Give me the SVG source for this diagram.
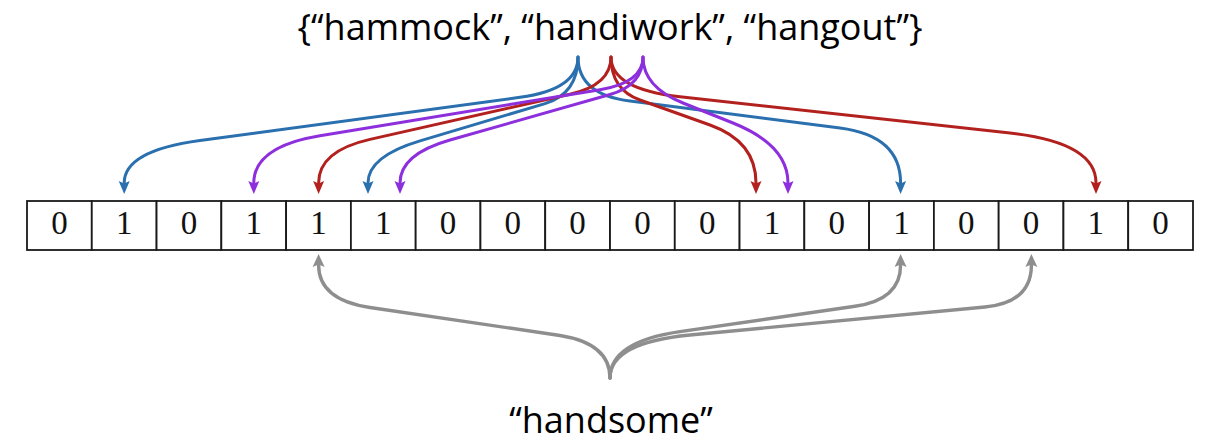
<svg xmlns="http://www.w3.org/2000/svg" width="1208" height="448" viewBox="0 0 1208 448">
<style>
.lbl{font-family:"Open Sans","Liberation Sans",sans-serif;font-size:36px;fill:#000;text-anchor:middle}
.bit{font-family:"Liberation Serif","DejaVu Serif",serif;font-size:33px;fill:#111;text-anchor:middle}
.cell{fill:#fff;stroke:#1a1a1a;stroke-width:1.8}
.c{fill:none;stroke-width:3;stroke-linecap:round}
.blue{stroke:#2a6fae}
.red{stroke:#b3211f}
.purple{stroke:#8d2fdc}
.gray{stroke:#8e8e8e;stroke-width:3.4}
</style>
<defs>
<marker id="ab" markerUnits="userSpaceOnUse" viewBox="-4 -7 16 14" refX="0" refY="0" markerWidth="16" markerHeight="14" orient="auto"><path d="M11 0 L-2 -5.5 L0.5 0 L-2 5.5 Z" fill="#2a6fae"/></marker>
<marker id="ar" markerUnits="userSpaceOnUse" viewBox="-4 -7 16 14" refX="0" refY="0" markerWidth="16" markerHeight="14" orient="auto"><path d="M11 0 L-2 -5.5 L0.5 0 L-2 5.5 Z" fill="#b3211f"/></marker>
<marker id="ap" markerUnits="userSpaceOnUse" viewBox="-4 -7 16 14" refX="0" refY="0" markerWidth="16" markerHeight="14" orient="auto"><path d="M11 0 L-2 -5.5 L0.5 0 L-2 5.5 Z" fill="#8d2fdc"/></marker>
<marker id="ag" markerUnits="userSpaceOnUse" viewBox="-4 -7 16 14" refX="0" refY="0" markerWidth="16" markerHeight="14" orient="auto"><path d="M11 0 L-2 -6 L0.5 0 L-2 6 Z" fill="#8e8e8e"/></marker>
</defs>
<rect width="1208" height="448" fill="#fff"/>
<g id="set-label"><text class="lbl" x="610" y="40">{“hammock”, “handiwork”, “hangout”}</text></g>
<g id="query-label"><text class="lbl" x="611" y="433">“handsome”</text></g>
<g id="bit-array">
<rect class="cell" x="27" y="201" width="64.78" height="49"/>
<rect class="cell" x="91.78" y="201" width="64.78" height="49"/>
<rect class="cell" x="156.56" y="201" width="64.78" height="49"/>
<rect class="cell" x="221.33" y="201" width="64.78" height="49"/>
<rect class="cell" x="286.11" y="201" width="64.78" height="49"/>
<rect class="cell" x="350.89" y="201" width="64.78" height="49"/>
<rect class="cell" x="415.67" y="201" width="64.78" height="49"/>
<rect class="cell" x="480.44" y="201" width="64.78" height="49"/>
<rect class="cell" x="545.22" y="201" width="64.78" height="49"/>
<rect class="cell" x="610" y="201" width="64.78" height="49"/>
<rect class="cell" x="674.78" y="201" width="64.78" height="49"/>
<rect class="cell" x="739.56" y="201" width="64.78" height="49"/>
<rect class="cell" x="804.33" y="201" width="64.78" height="49"/>
<rect class="cell" x="869.11" y="201" width="64.78" height="49"/>
<rect class="cell" x="933.89" y="201" width="64.78" height="49"/>
<rect class="cell" x="998.67" y="201" width="64.78" height="49"/>
<rect class="cell" x="1063.44" y="201" width="64.78" height="49"/>
<rect class="cell" x="1128.22" y="201" width="64.78" height="49"/>
<text class="bit" x="59.4" y="234">0</text>
<text class="bit" x="124.2" y="234">1</text>
<text class="bit" x="189" y="234">0</text>
<text class="bit" x="253.7" y="234">1</text>
<text class="bit" x="318.5" y="234">1</text>
<text class="bit" x="383.3" y="234">1</text>
<text class="bit" x="448.1" y="234">0</text>
<text class="bit" x="512.8" y="234">0</text>
<text class="bit" x="577.6" y="234">0</text>
<text class="bit" x="642.4" y="234">0</text>
<text class="bit" x="707.2" y="234">0</text>
<text class="bit" x="771.9" y="234">1</text>
<text class="bit" x="836.7" y="234">0</text>
<text class="bit" x="901.5" y="234">1</text>
<text class="bit" x="966.3" y="234">0</text>
<text class="bit" x="1031" y="234">0</text>
<text class="bit" x="1095.8" y="234">1</text>
<text class="bit" x="1160.6" y="234">0</text>
</g>
<g id="connectors">
<path class="c blue" marker-end="url(#ab)" d="M578,57 Q578,89.5 520,97.3 L200,140.5 Q124.2,150.7 124.2,183"/>
<path class="c blue" marker-end="url(#ab)" d="M578,57 Q578,93.7 545,103.6 L420,140.9 Q368,156.4 368,183"/>
<path class="c blue" marker-end="url(#ab)" d="M578,57 Q578,94.4 630,101.1 L840,127.9 Q900.6,135.7 900.6,183"/>
<path class="c red" marker-end="url(#ar)" d="M611,57 Q611,85 570,94.2 L370,139.4 Q318.6,151 318.6,183"/>
<path class="c red" marker-end="url(#ar)" d="M611,57 Q611,89.6 640,100 L710,125 Q756,141.4 756,183"/>
<path class="c red" marker-end="url(#ar)" d="M611,57 Q611,89.2 680,96.8 L1010,133.1 Q1096,142.6 1096,183"/>
<path class="c purple" marker-end="url(#ap)" d="M643,57 Q643,82.6 600,89.7 L320,135.7 Q253.8,146.6 253.8,183"/>
<path class="c purple" marker-end="url(#ap)" d="M643,57 Q643,85.1 610,94.5 L450,140 Q400,154.2 400,183"/>
<path class="c purple" marker-end="url(#ap)" d="M643,57 Q643,87 683,103 L733,123 Q788,145 788,183"/>
<path class="c gray" marker-end="url(#ag)" d="M610,378 Q610,343.5 560,335.5 L370,307.5 Q318.6,299.8 318.6,265"/>
<path class="c gray" marker-end="url(#ag)" d="M610,378 Q610,341.8 680,331.6 L855,306.3 Q900.6,299.7 900.6,265"/>
<path class="c gray" marker-end="url(#ag)" d="M610,378 Q610,342.6 690,335 L985,307 Q1031.4,302.6 1031.4,265"/>
</g>
</svg>
